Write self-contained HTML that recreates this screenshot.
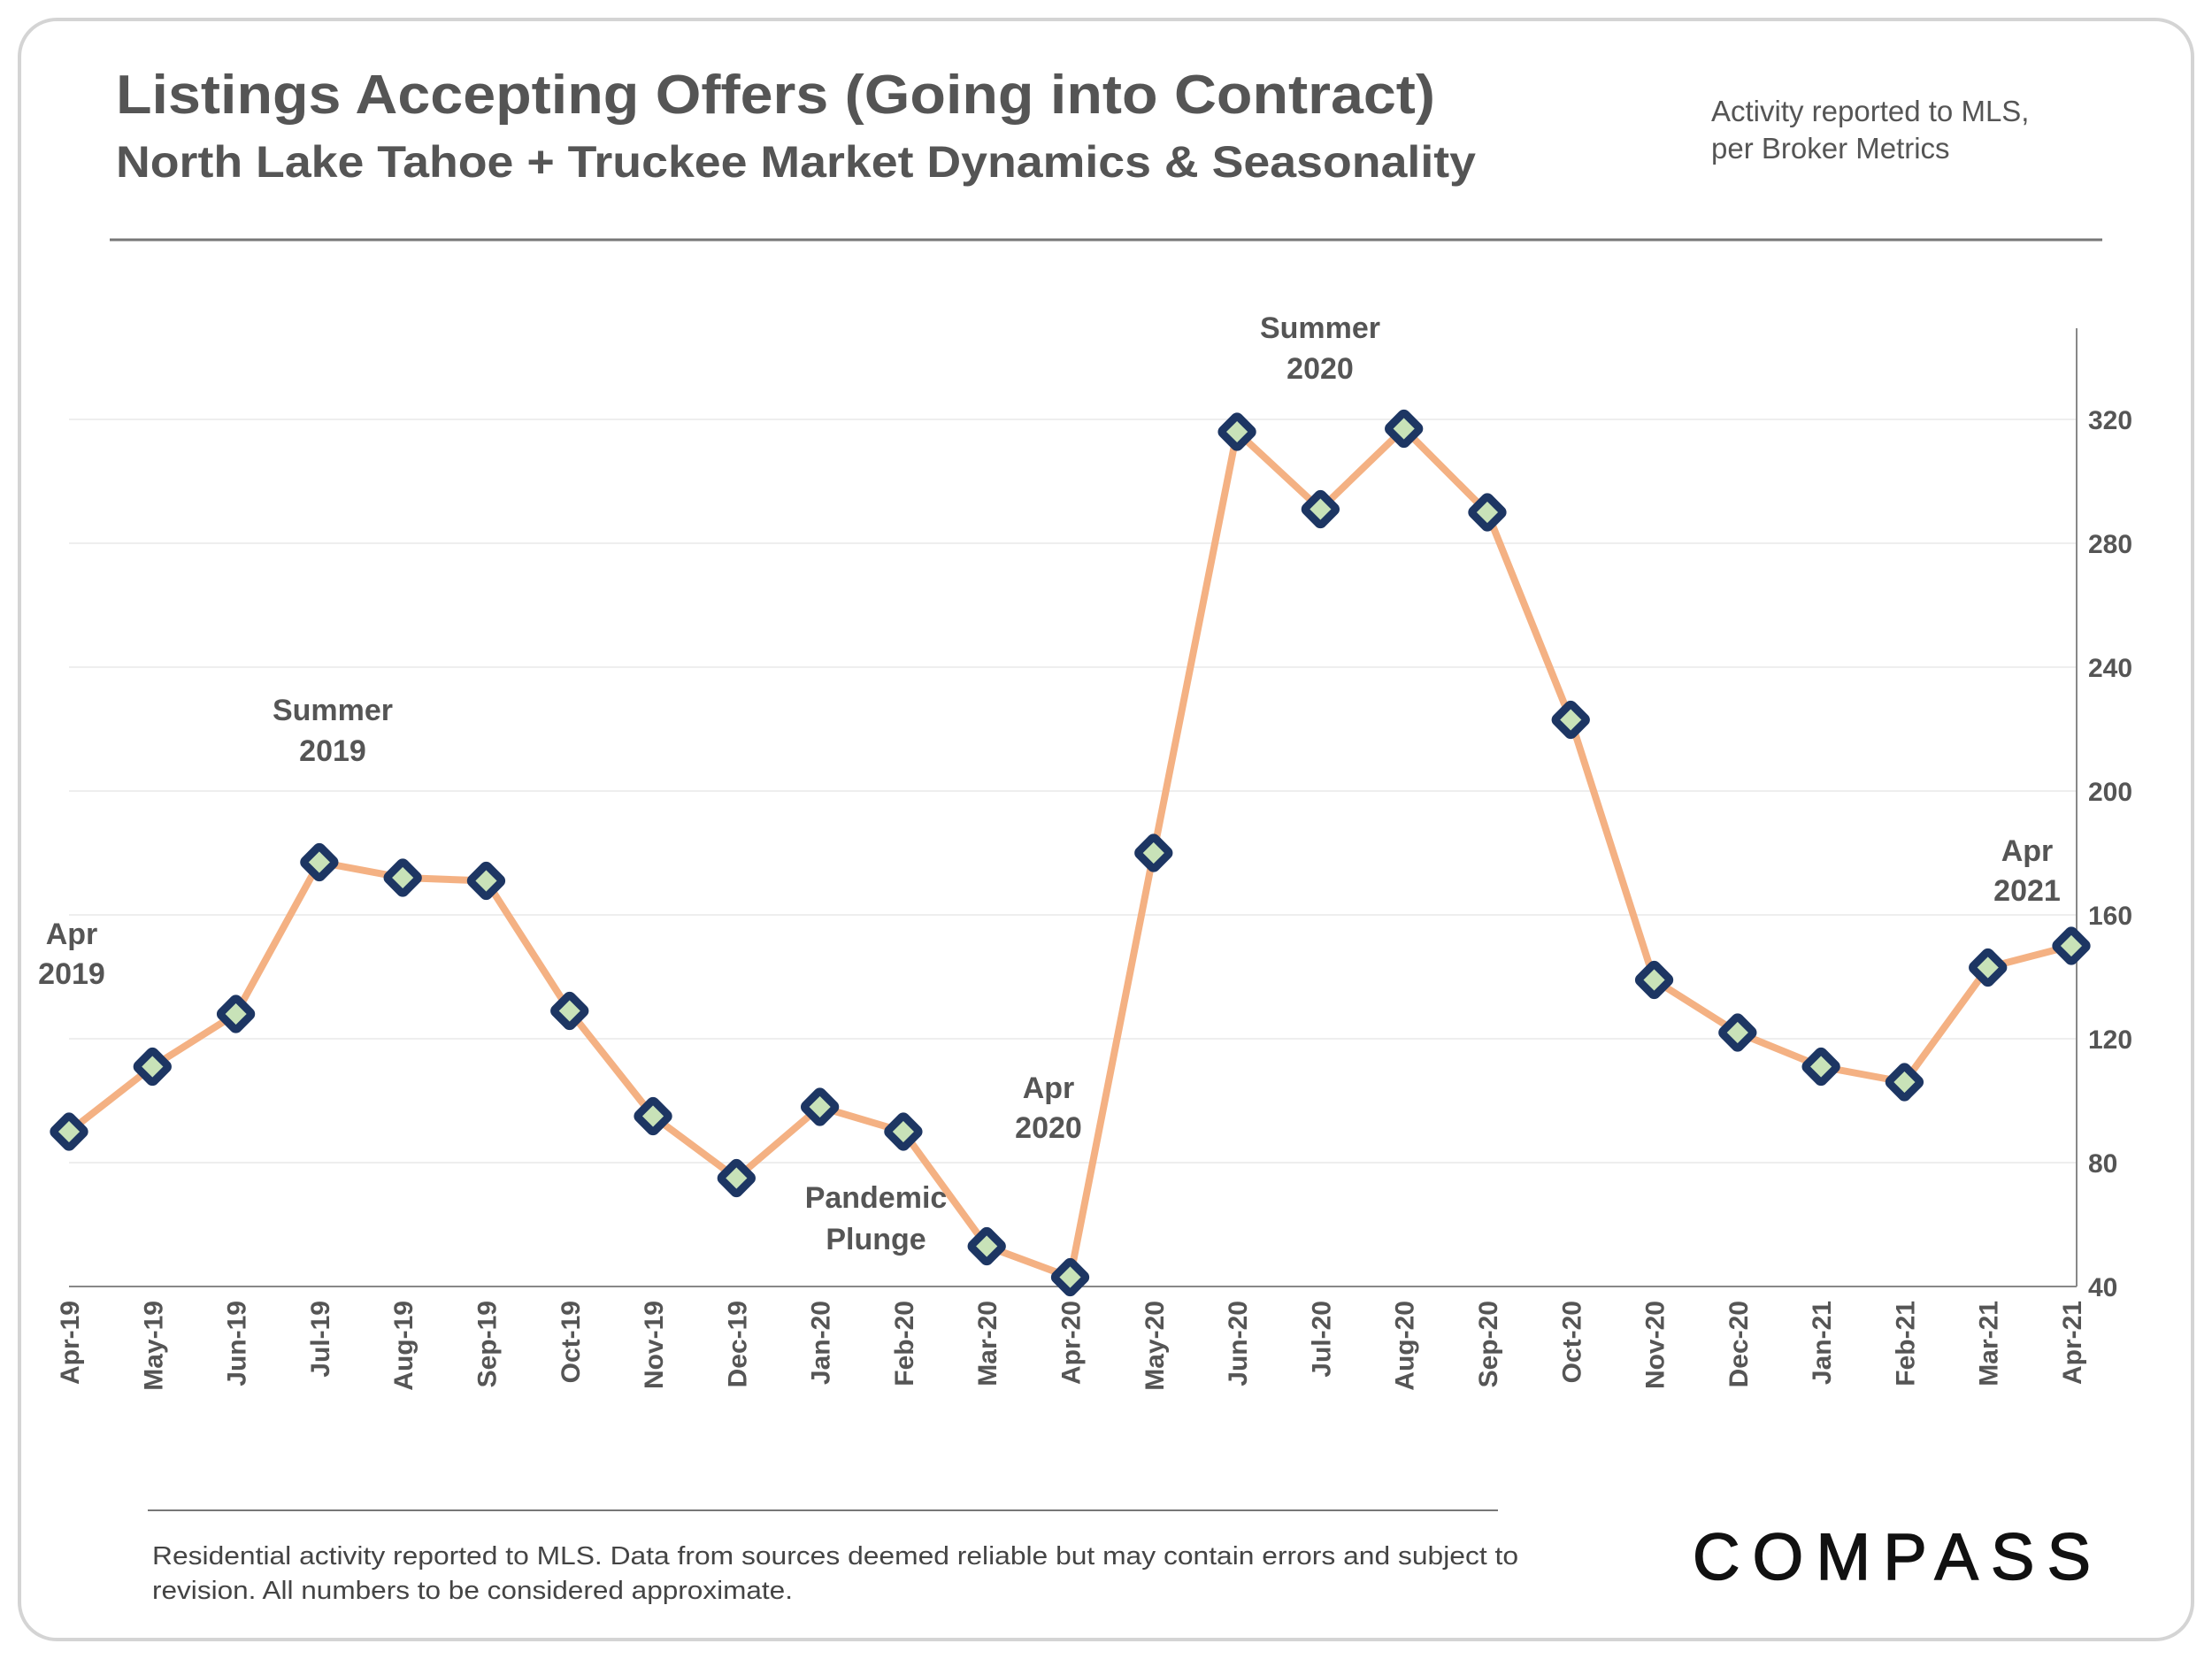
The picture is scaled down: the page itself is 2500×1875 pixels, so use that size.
<!DOCTYPE html>
<html><head><meta charset="utf-8"><style>
html,body{margin:0;padding:0;background:#fff;}
svg{display:block;font-family:"Liberation Sans",sans-serif;}
</style></head><body>
<svg width="2500" height="1875" viewBox="0 0 2500 1875">
<rect x="22" y="22" width="2456" height="1831" rx="42" fill="#fff" stroke="#d4d4d4" stroke-width="4"/>
<text x="131" y="128" font-size="62" font-weight="bold" fill="#555" textLength="1491" lengthAdjust="spacingAndGlyphs">Listings Accepting Offers (Going into Contract)</text>
<text x="131" y="200" font-size="50" font-weight="bold" fill="#555" textLength="1537" lengthAdjust="spacingAndGlyphs">North Lake Tahoe + Truckee Market Dynamics &amp; Seasonality</text>
<text x="1934" y="137" font-size="33" fill="#555"><tspan x="1934">Activity reported to MLS,</tspan><tspan x="1934" dy="42">per Broker Metrics</tspan></text>
<line x1="124" y1="271" x2="2376" y2="271" stroke="#777" stroke-width="3"/>
<g id="grid"></g>
<line x1="2347" y1="371" x2="2347" y2="1454" stroke="#888" stroke-width="2"/>
<line x1="78" y1="1454" x2="2347" y2="1454" stroke="#888" stroke-width="2"/>
<g id="yticks"></g>
<g id="xticks"></g>
<path id="line" fill="none" stroke="#f4b183" stroke-width="8" stroke-linejoin="round"/>
<g id="marks"></g>
<g font-size="34" font-weight="bold" fill="#555" text-anchor="middle">
<text x="376" y="814"><tspan x="376">Summer</tspan><tspan x="376" dy="46">2019</tspan></text>
<text x="81" y="1067"><tspan x="81">Apr</tspan><tspan x="81" dy="45">2019</tspan></text>
<text x="1492" y="382"><tspan x="1492">Summer</tspan><tspan x="1492" dy="46">2020</tspan></text>
<text x="1185" y="1241"><tspan x="1185">Apr</tspan><tspan x="1185" dy="45">2020</tspan></text>
<text x="990" y="1365"><tspan x="990">Pandemic</tspan><tspan x="990" dy="47">Plunge</tspan></text>
<text x="2291" y="973"><tspan x="2291">Apr</tspan><tspan x="2291" dy="45">2021</tspan></text>
</g>
<line x1="167" y1="1707" x2="1693" y2="1707" stroke="#777" stroke-width="2"/>
<g font-size="29" fill="#444">
<text x="172" y="1768" textLength="1544" lengthAdjust="spacingAndGlyphs">Residential activity reported to MLS. Data from sources deemed reliable but may contain errors and subject to</text>
<text x="172" y="1807" textLength="724" lengthAdjust="spacingAndGlyphs">revision. All numbers to be considered approximate.</text>
</g>
<text x="1913" y="1785" font-size="74" fill="#111" stroke="#111" stroke-width="1.5" textLength="450" lengthAdjust="spacing">COMPASS</text>
</svg>
<script>
const categories=["Apr-19","May-19","Jun-19","Jul-19","Aug-19","Sep-19","Oct-19","Nov-19","Dec-19","Jan-20","Feb-20","Mar-20","Apr-20","May-20","Jun-20","Jul-20","Aug-20","Sep-20","Oct-20","Nov-20","Dec-20","Jan-21","Feb-21","Mar-21","Apr-21"];
const values=[90,111,128,177,172,171,129,95,75,98,90,53,43,180,316,291,317,290,223,139,122,111,106,143,150];
const yTicks=[40,80,120,160,200,240,280,320];
const NS="http://www.w3.org/2000/svg";
const x0=78,x1=2341,yBase=1454,yTop=474;
function xs(i){return x0+(x1-x0)*i/(categories.length-1);}
function ys(v){return yBase-(v-40)*(yBase-yTop)/280;}
const grid=document.getElementById('grid'),yt=document.getElementById('yticks'),xt=document.getElementById('xticks');
yTicks.forEach(t=>{
 if(t>40){const l=document.createElementNS(NS,'line');
 l.setAttribute('x1',78);l.setAttribute('x2',2347);l.setAttribute('y1',ys(t));l.setAttribute('y2',ys(t));
 l.setAttribute('stroke','#eee');l.setAttribute('stroke-width','2');
 
 
 grid.appendChild(l);}
 const tx=document.createElementNS(NS,'text');
 tx.setAttribute('x',2360);tx.setAttribute('y',ys(t)+11);tx.setAttribute('font-size','30');tx.setAttribute('font-weight','bold');tx.setAttribute('fill','#555');
 tx.textContent=t;
 
 
 yt.appendChild(tx);
});
categories.forEach((c,i)=>{
 const tx=document.createElementNS(NS,'text');
 const x=xs(i)+11,y=1470;
 tx.setAttribute('x',x);tx.setAttribute('y',y);tx.setAttribute('transform','rotate(-90 '+x+' '+y+')');
 tx.setAttribute('text-anchor','end');tx.setAttribute('font-size','30');tx.setAttribute('font-weight','bold');tx.setAttribute('fill','#555');
 tx.textContent=c;
 
 
 xt.appendChild(tx);
});
document.getElementById('line').setAttribute('d',values.map((v,i)=>(i?'L':'M')+xs(i)+' '+ys(v)).join(' '));
const marks=document.getElementById('marks');
values.forEach((v,i)=>{
 const g=document.createElementNS(NS,'g');
 g.setAttribute('transform','translate('+xs(i)+' '+ys(v)+') rotate(45)');
 
 
 g.innerHTML='<rect x="-13" y="-13" width="26" height="26" rx="3" fill="#c8e2b8" stroke="#1d3663" stroke-width="9"/>';
 marks.appendChild(g);
});
</script>
</body></html>
